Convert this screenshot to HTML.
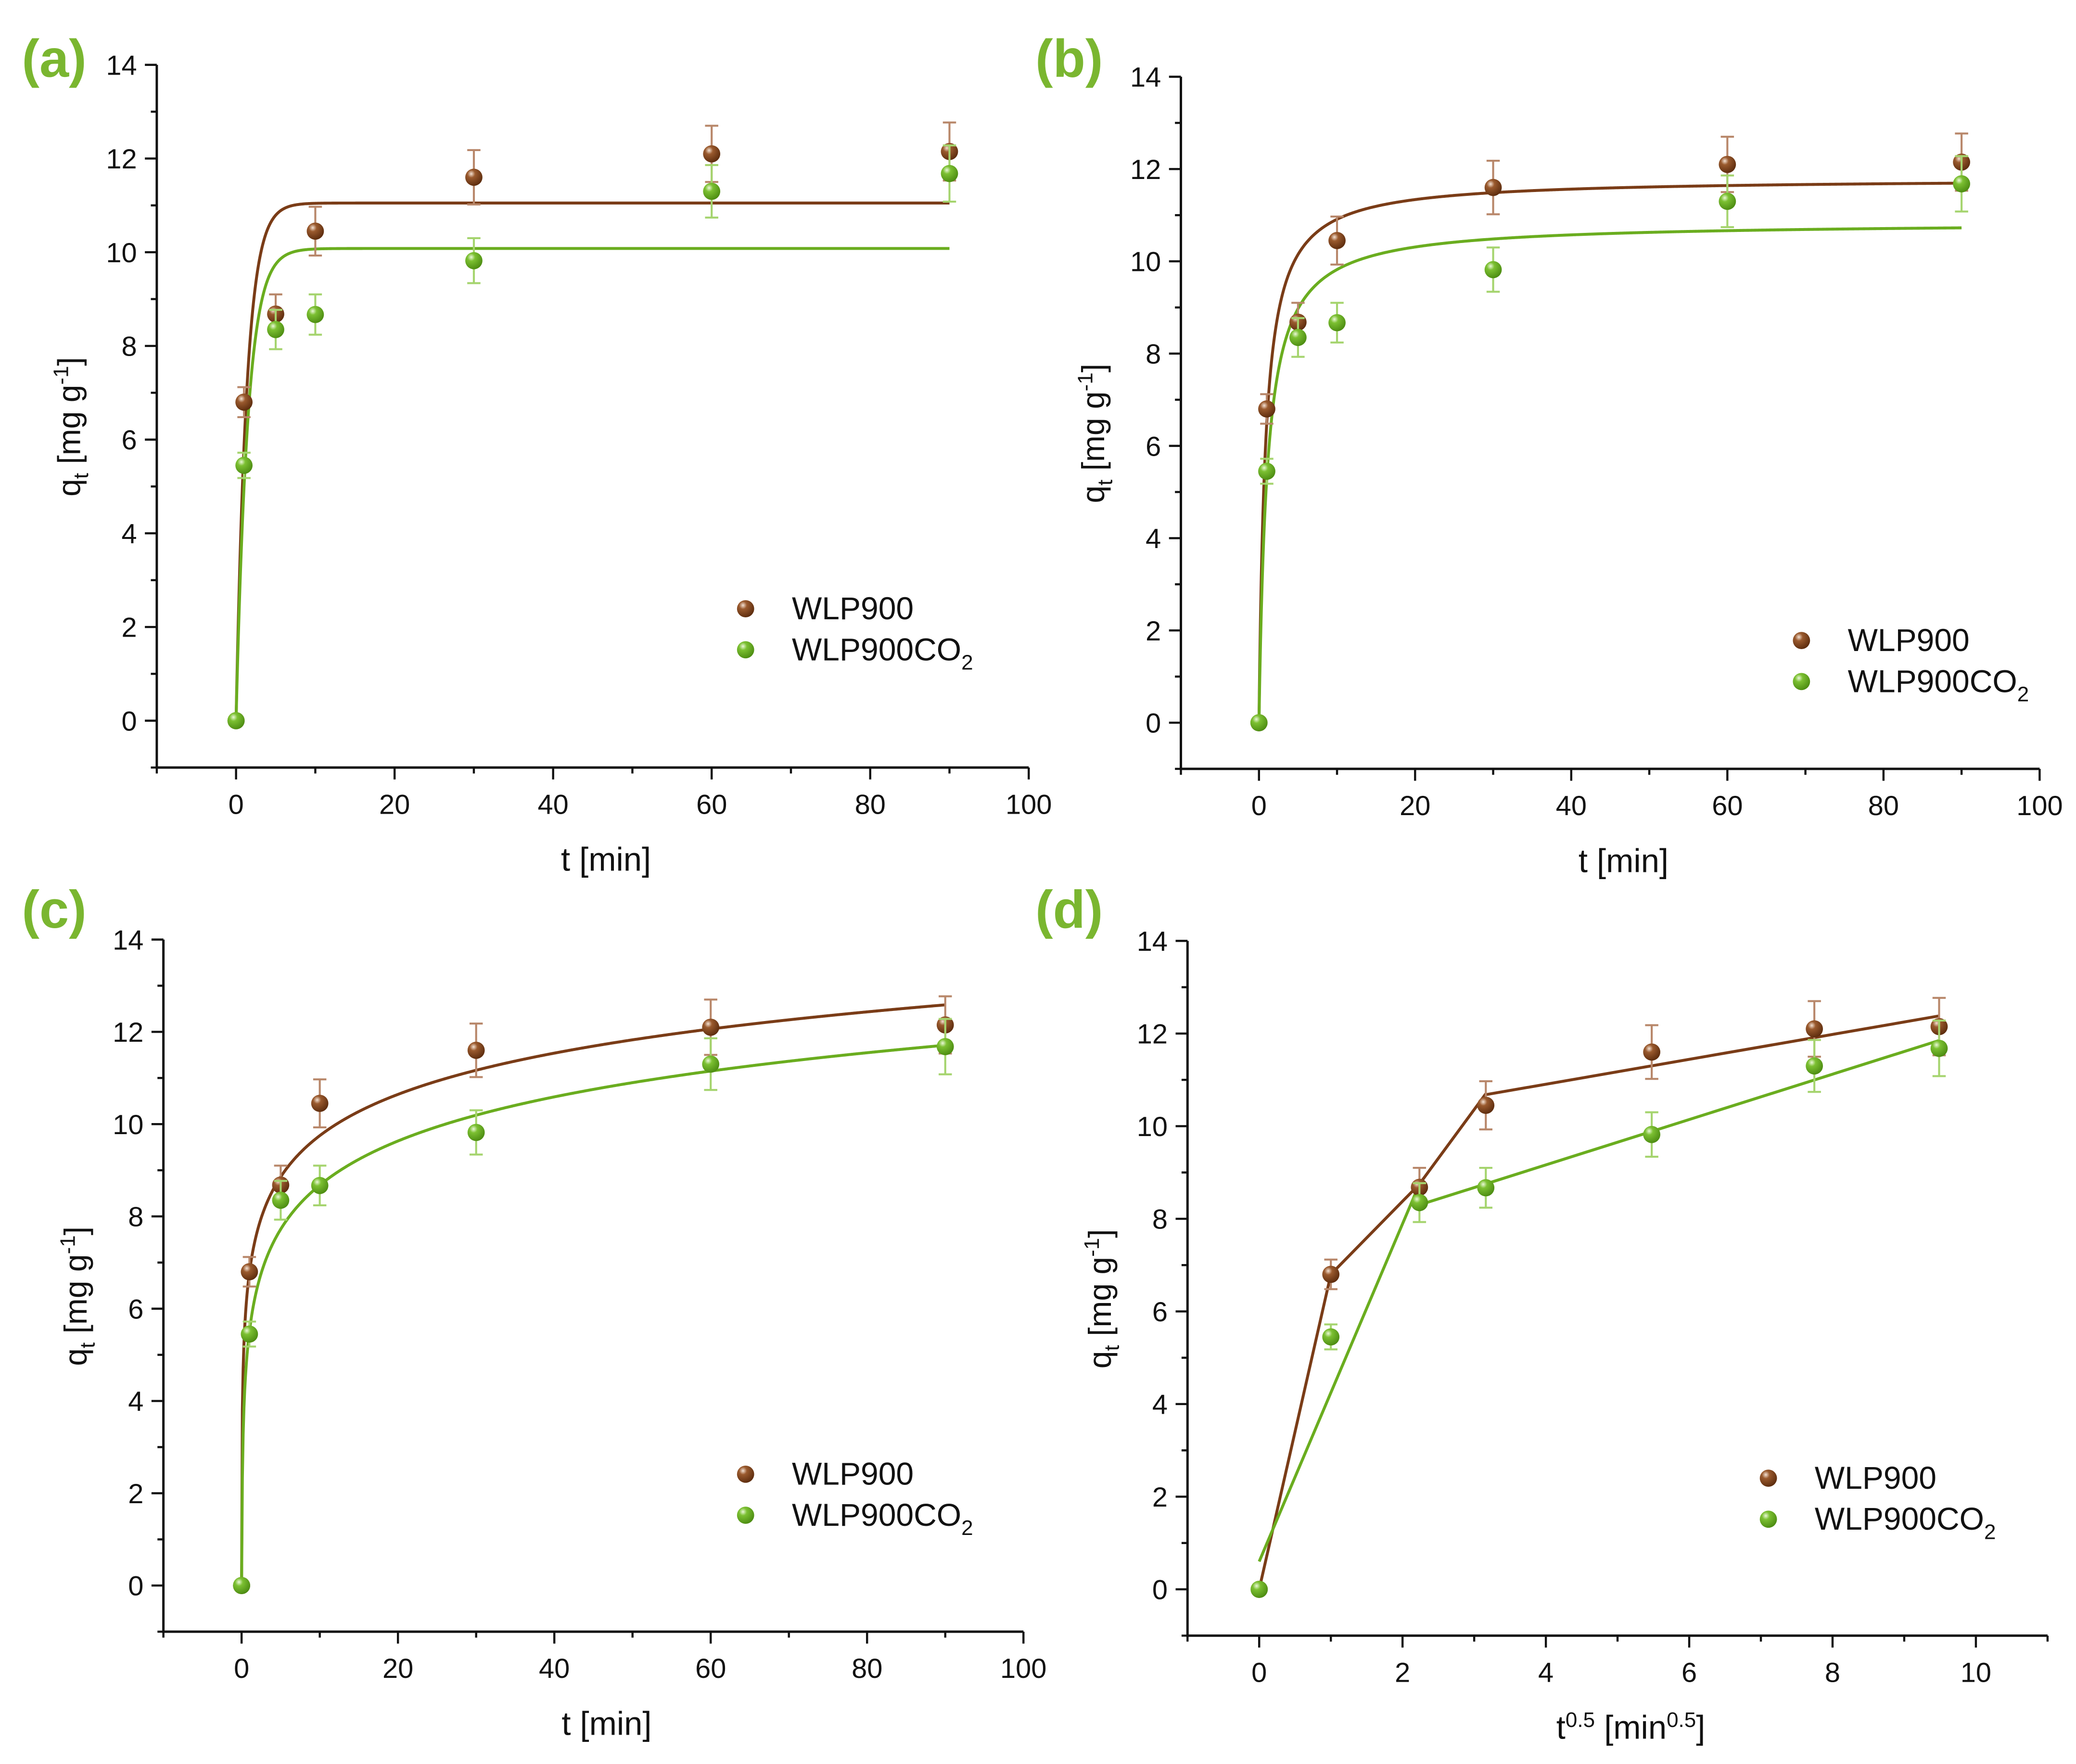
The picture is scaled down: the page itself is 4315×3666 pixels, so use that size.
<!DOCTYPE html>
<html><head><meta charset="utf-8"><style>
html,body{margin:0;padding:0;background:#fff}
svg{display:block}
text{font-family:"Liberation Sans",Arial,sans-serif;fill:#111}
</style></head><body>
<svg id="fig" xmlns="http://www.w3.org/2000/svg" width="4315" height="3666" viewBox="0 0 1568 1333">
<defs>
<radialGradient id="gb" cx="0.35" cy="0.3" r="0.75"><stop offset="0" stop-color="#f4e2d4"/><stop offset="0.3" stop-color="#9a5a2e"/><stop offset="1" stop-color="#5a2a0c"/></radialGradient>
<radialGradient id="gg" cx="0.35" cy="0.3" r="0.75"><stop offset="0" stop-color="#eaf8d8"/><stop offset="0.3" stop-color="#7cc032"/><stop offset="1" stop-color="#4a8a10"/></radialGradient>
</defs>
</svg>
<script>
// shared experimental data
const times = [0, 1, 5, 10, 30, 60, 90];
const sqrtTimes = [0, 1, 2.236, 3.162, 5.477, 7.746, 9.487];
const qWLP = [0, 6.8, 8.68, 10.45, 11.6, 12.1, 12.15];
const eWLP = [0, 0.32, 0.42, 0.52, 0.58, 0.6, 0.62];
const qCO2 = [0, 5.45, 8.35, 8.67, 9.82, 11.3, 11.68];
const eCO2 = [0, 0.27, 0.42, 0.43, 0.48, 0.56, 0.6];
const yTicks = [0, 2, 4, 6, 8, 10, 12, 14];
const xTicksT = [0, 20, 40, 60, 80, 100];
const xTicksS = [0, 2, 4, 6, 8, 10];
// model parameters: pseudo-first order (a)
const pfoQe = [11.05, 10.08];
const pfoK = [0.75, 0.68];
// pseudo-second order (b)
const psoQe = [11.8, 10.85];
const psoK = [0.104, 0.088];
// Elovich-type log fit (c)
const eloA = [6.78, 5.5];
const eloB = [1.29, 1.38];
// intraparticle diffusion segments (d): [x0,y0,x1,y1]
const ipdWLP = [[0, 0, 1, 6.8], [1, 6.8, 2.236, 8.75], [2.236, 8.75, 3.162, 10.7], [3.162, 10.68, 9.487, 12.38]];
const ipdCO2 = [[0, 0.6, 2.2, 8.62], [2.236, 8.3, 9.487, 11.85]];

const NS = 'http://www.w3.org/2000/svg';
const svg = document.getElementById('fig');
const BROWN = '#7a3c17', GREEN = '#6aad1f', BERR = '#b8876a', GERR = '#a5d46e';
function mk(tag, attrs, parent) {
  const e = document.createElementNS(NS, tag);
  for (const k in attrs) e.setAttribute(k, attrs[k]);
  (parent || svg).appendChild(e);
  return e;
}

function panel(cfg) {
  const g = mk('g', {});
  
  
  const X = v => cfg.x0 + (v - cfg.xmin) / (cfg.xmax - cfg.xmin) * (cfg.x1 - cfg.x0);
  const Y = v => cfg.y0 - (v - cfg.ymin) / (cfg.ymax - cfg.ymin) * (cfg.y0 - cfg.y1);
  const ax = mk('path', {d: `M${cfg.x0},${Y(cfg.ymax)} L${cfg.x0},${cfg.y0} L${cfg.x1},${cfg.y0}`, fill: 'none', stroke: '#111', 'stroke-width': 1.8}, g);
  
  
  for (let v = cfg.ymin; v <= cfg.ymax + 1e-9; v += 1) {
    const major = yTicks.indexOf(v) >= 0;
    mk('line', {x1: cfg.x0 - (major ? 9 : 4.5), x2: cfg.x0, y1: Y(v), y2: Y(v), stroke: '#111', 'stroke-width': 1.6}, g);
  }
  yTicks.forEach(v => {
    const t = mk('text', {x: cfg.x0 - 15, y: Y(v) + 7.5, 'text-anchor': 'end', 'font-size': 21}, g);
    t.textContent = v;
    
    
  });
  const xt = cfg.xticks;
  const step = (xt[1] - xt[0]) / 2;
  for (let v = cfg.xmin; v <= cfg.xmax + 1e-9; v += step) {
    const major = xt.some(a => Math.abs(a - v) < 1e-9);
    mk('line', {x1: X(v), x2: X(v), y1: cfg.y0, y2: cfg.y0 + (major ? 9 : 4.5), stroke: '#111', 'stroke-width': 1.6}, g);
  }
  xt.forEach(v => {
    const t = mk('text', {x: X(v), y: cfg.y0 + 35, 'text-anchor': 'middle', 'font-size': 21}, g);
    t.textContent = v;
    
    
  });
  const yt = mk('text', {x: 0, y: 0, 'text-anchor': 'middle', 'font-size': 24, transform: `translate(${cfg.x0 - 58},${(cfg.y0 + Y(cfg.ymax)) / 2 + 8}) rotate(-90)`}, g);
  yt.innerHTML = 'q<tspan font-size="16" dy="6">t</tspan><tspan dy="-6"> [mg g</tspan><tspan font-size="16" dy="-9">-1</tspan><tspan dy="9">]</tspan>';
  
  
  const xtt = mk('text', {x: (cfg.x0 + cfg.x1) / 2 + 10, y: cfg.y0 + 78, 'text-anchor': 'middle', 'font-size': 25}, g);
  xtt.innerHTML = cfg.xtitle;
  
  
  const pl = mk('text', {x: cfg.lx, y: cfg.ly, 'font-size': 40, 'font-weight': 'bold', style: 'fill:#7ab630'}, g);
  pl.textContent = '(' + cfg.id + ')';
  
  
  [[BROWN, 0], [GREEN, 1]].forEach(([c, i]) => {
    let d = '';
    if (cfg.segs) {
      cfg.segs[i].forEach(s => { d += `M${X(s[0])},${Y(s[1])} L${X(s[2])},${Y(s[3])} `; });
    } else {
      for (let k = 0; k <= 900; k++) {
        const t = k * 0.1;
        const q = Math.max(0, cfg.model(i, t));
        d += (k ? 'L' : 'M') + X(t).toFixed(2) + ',' + Y(q).toFixed(2) + ' ';
      }
    }
    const p = mk('path', {d: d, fill: 'none', stroke: c, 'stroke-width': 2.2}, g);
    
    
  });
  [[qWLP, eWLP, BERR, 'gb', 'wlp900'], [qCO2, eCO2, GERR, 'gg', 'wlp900co2']].forEach(([qs, es, ec, gr, nm]) => {
    cfg.xs.forEach((xv, j) => {
      if (es[j] > 0) {
        const cx = X(xv);
        mk('path', {d: `M${cx},${Y(qs[j] - es[j])} L${cx},${Y(qs[j] + es[j])} M${cx - 5},${Y(qs[j] + es[j])} L${cx + 5},${Y(qs[j] + es[j])} M${cx - 5},${Y(qs[j] - es[j])} L${cx + 5},${Y(qs[j] - es[j])}`, fill: 'none', stroke: ec, 'stroke-width': 1.5}, g);
      }
    });
    cfg.xs.forEach((xv, j) => {
      const c = mk('circle', {cx: X(xv), cy: Y(qs[j]), r: 6.5, fill: `url(#${gr})`}, g);
      
      
    });
  });
  const lg = mk('g', {}, g);
  
  
  [['gb', 'WLP900', 0], ['gg', 'WLP900CO<tspan font-size="16" dy="7">2</tspan>', 31]].forEach(([gr, lab, dy]) => {
    mk('circle', {cx: cfg.legx, cy: cfg.legy + dy, r: 6.5, fill: `url(#${gr})`}, lg);
    const t = mk('text', {x: cfg.legx + 35, y: cfg.legy + dy + 8, 'font-size': 24}, lg);
    t.innerHTML = lab;
    
    
  });
}

panel({id: 'a', x0: 118, x1: 777, y0: 580, y1: 49, xmin: -10, xmax: 100, ymin: -1, ymax: 14, xticks: xTicksT, xs: times,
  xtitle: 't [min]', lx: 16, ly: 58, legx: 563, legy: 460,
  model: (i, t) => pfoQe[i] * (1 - Math.exp(-pfoK[i] * t))});
panel({id: 'b', x0: 892, x1: 1541, y0: 581, y1: 58, xmin: -10, xmax: 100, ymin: -1, ymax: 14, xticks: xTicksT, xs: times,
  xtitle: 't [min]', lx: 782, ly: 58, legx: 1361, legy: 484,
  model: (i, t) => psoK[i] * psoQe[i] * psoQe[i] * t / (1 + psoK[i] * psoQe[i] * t)});
panel({id: 'c', x0: 123, x1: 773, y0: 1233, y1: 710, xmin: -10, xmax: 100, ymin: -1, ymax: 14, xticks: xTicksT, xs: times,
  xtitle: 't [min]', lx: 16, ly: 701, legx: 563, legy: 1114,
  model: (i, t) => t <= 0 ? 0 : eloA[i] + eloB[i] * Math.log(t)});
panel({id: 'd', x0: 897, x1: 1547, y0: 1236, y1: 711, xmin: -1, xmax: 11.0, ymin: -1, ymax: 14, xticks: xTicksS, xs: sqrtTimes,
  xtitle: 't<tspan font-size="16" dy="-9">0.5</tspan><tspan dy="9"> [min</tspan><tspan font-size="16" dy="-9">0.5</tspan><tspan dy="9">]</tspan>',
  lx: 782, ly: 701, legx: 1336, legy: 1117, segs: [ipdWLP, ipdCO2]});
</script>
</body></html>
